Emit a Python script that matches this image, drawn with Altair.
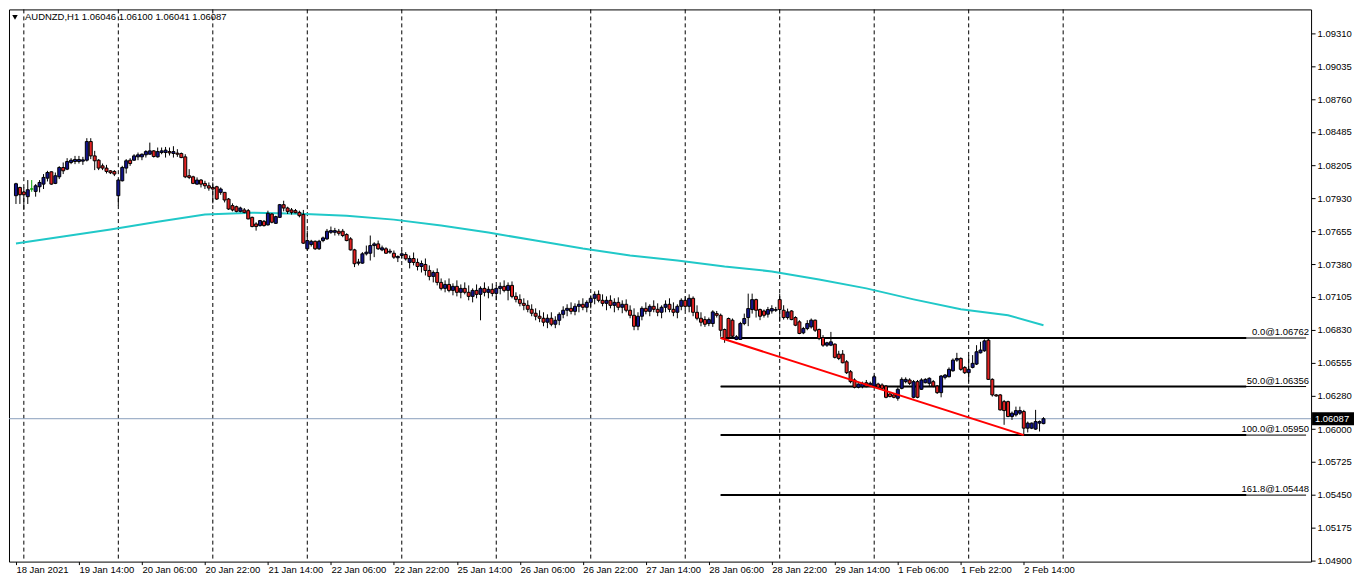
import altair as alt
import pandas as pd

# ---------------- data (AUDNZD H1) ----------------
open_ = [
 1.07952,1.08021,1.07983,1.07944,1.08008,1.07988,1.08027,1.08049,1.08099,1.08152,
 1.08055,1.08110,1.08188,1.08174,1.08230,1.08238,1.08238,1.08241,1.08249,1.08405,
 1.08285,1.08249,1.08202,1.08183,1.08160,1.08155,1.07952,1.08077,1.08183,1.08249,
 1.08249,1.08277,1.08277,1.08294,1.08299,1.08327,1.08277,1.08313,1.08313,1.08321,
 1.08305,1.08308,1.08305,1.08277,1.08119,1.08110,1.08049,1.08083,1.08055,1.08035,
 1.08021,1.08027,1.07980,1.07980,1.07924,1.07869,1.07860,1.07821,1.07833,1.07827,
 1.07771,1.07716,1.07702,1.07738,1.07708,1.07799,1.07721,1.07771,1.07877,1.07849,
 1.07833,1.07827,1.07813,1.07794,1.07508,1.07544,1.07571,1.07508,1.07577,1.07591,
 1.07646,1.07646,1.07655,1.07655,1.07627,1.07591,1.07499,1.07388,1.07388,1.07466,
 1.07471,1.07535,1.07549,1.07499,1.07508,1.07480,1.07471,1.07433,1.07452,1.07460,
 1.07394,1.07427,1.07394,1.07360,1.07377,1.07327,1.07277,1.07310,1.07227,1.07177,
 1.07210,1.07160,1.07194,1.07144,1.07177,1.07144,1.07110,1.07160,1.07127,1.07177,
 1.07144,1.07169,1.07135,1.07177,1.07194,1.07160,1.07202,1.07110,1.07085,1.07052,
 1.07035,1.07002,1.06969,1.06944,1.06927,1.06894,1.06927,1.06877,1.06910,1.06960,
 1.06994,1.07010,1.06985,1.07027,1.07044,1.07019,1.07060,1.07094,1.07127,1.07077,
 1.07052,1.07077,1.07035,1.07060,1.07019,1.07044,1.06994,1.06952,1.06860,1.06944,
 1.07010,1.06985,1.07027,1.07002,1.06977,1.07019,1.07044,1.07002,1.06977,1.07027,
 1.07077,1.07027,1.07094,1.06977,1.06927,1.06916,1.06883,1.06883,1.06966,1.06952,
 1.06833,1.06925,1.06911,1.06750,1.06750,1.06883,1.06933,1.07000,1.07083,1.07000,
 1.06988,1.06961,1.06988,1.06994,1.07083,1.06994,1.06933,1.06988,1.06933,1.06897,
 1.06805,1.06841,1.06855,1.06911,1.06833,1.06766,1.06702,1.06702,1.06711,1.06627,
 1.06627,1.06563,1.06480,1.06411,1.06350,1.06355,1.06388,1.06369,1.06360,1.06377,
 1.06369,1.06360,1.06294,1.06286,1.06258,1.06341,1.06397,1.06411,1.06266,1.06397,
 1.06333,1.06388,1.06383,1.06397,1.06360,1.06305,1.06433,1.06438,1.06488,1.06577,
 1.06591,1.06516,1.06472,1.06516,1.06544,1.06638,1.06655,1.06744,1.06416,1.06286,
 1.06286,1.06230,1.06230,1.06105,1.06119,1.06133,1.06147,1.06008,1.06008,1.06000,
 1.06050,1.06046]
high_ = [
 1.08060,1.08027,1.08021,1.08083,1.08083,1.08049,1.08083,1.08133,1.08160,1.08155,
 1.08146,1.08199,1.08230,1.08266,1.08266,1.08285,1.08285,1.08277,1.08433,1.08433,
 1.08327,1.08258,1.08221,1.08210,1.08166,1.08166,1.08091,1.08202,1.08258,1.08266,
 1.08299,1.08313,1.08305,1.08333,1.08396,1.08333,1.08355,1.08355,1.08360,1.08355,
 1.08366,1.08341,1.08313,1.08299,1.08174,1.08119,1.08105,1.08091,1.08077,1.08063,
 1.08063,1.08035,1.08021,1.07980,1.07933,1.07888,1.07869,1.07860,1.07849,1.07841,
 1.07777,1.07730,1.07749,1.07749,1.07827,1.07805,1.07785,1.07883,1.07910,1.07860,
 1.07849,1.07841,1.07827,1.07833,1.07660,1.07583,1.07577,1.07583,1.07610,1.07674,
 1.07694,1.07683,1.07674,1.07674,1.07638,1.07605,1.07508,1.07424,1.07480,1.07535,
 1.07619,1.07563,1.07577,1.07535,1.07521,1.07508,1.07494,1.07452,1.07494,1.07480,
 1.07452,1.07477,1.07427,1.07410,1.07427,1.07369,1.07327,1.07344,1.07260,1.07244,
 1.07260,1.07219,1.07244,1.07210,1.07227,1.07202,1.07177,1.07210,1.07194,1.07227,
 1.07194,1.07219,1.07202,1.07227,1.07244,1.07227,1.07235,1.07144,1.07127,1.07094,
 1.07077,1.07044,1.07010,1.06994,1.06977,1.06960,1.06977,1.06944,1.06977,1.07027,
 1.07044,1.07060,1.07052,1.07077,1.07094,1.07077,1.07119,1.07152,1.07160,1.07127,
 1.07110,1.07119,1.07094,1.07102,1.07077,1.07085,1.07035,1.07010,1.06977,1.07027,
 1.07060,1.07044,1.07077,1.07052,1.07035,1.07077,1.07094,1.07060,1.07044,1.07094,
 1.07110,1.07127,1.07110,1.07035,1.06977,1.06944,1.06933,1.06994,1.06988,1.06966,
 1.06841,1.06933,1.06925,1.06786,1.06897,1.06966,1.07133,1.07133,1.07091,1.07008,
 1.07000,1.07022,1.07036,1.07022,1.07133,1.07036,1.07008,1.06994,1.06944,1.06911,
 1.06855,1.06911,1.06925,1.06916,1.06841,1.06786,1.06730,1.06813,1.06716,1.06655,
 1.06661,1.06577,1.06494,1.06425,1.06383,1.06397,1.06411,1.06397,1.06452,1.06388,
 1.06383,1.06369,1.06305,1.06294,1.06350,1.06433,1.06433,1.06425,1.06411,1.06411,
 1.06425,1.06425,1.06433,1.06411,1.06369,1.06452,1.06461,1.06516,1.06591,1.06638,
 1.06600,1.06527,1.06619,1.06619,1.06702,1.06730,1.06750,1.06762,1.06425,1.06294,
 1.06294,1.06244,1.06238,1.06147,1.06188,1.06188,1.06161,1.06063,1.06055,1.06161,
 1.06072,1.06100]
low_ = [
 1.07883,1.07883,1.07833,1.07883,1.07985,1.07944,1.07980,1.08008,1.08071,1.08044,
 1.08049,1.08091,1.08133,1.08166,1.08216,1.08216,1.08221,1.08210,1.08238,1.08258,
 1.08166,1.08166,1.08166,1.08138,1.08133,1.08116,1.07869,1.08071,1.08138,1.08202,
 1.08244,1.08249,1.08249,1.08271,1.08299,1.08271,1.08271,1.08299,1.08271,1.08288,
 1.08271,1.08277,1.08266,1.08099,1.08091,1.08049,1.08044,1.08021,1.08008,1.07994,
 1.07888,1.07916,1.07960,1.07896,1.07833,1.07821,1.07813,1.07813,1.07805,1.07755,
 1.07688,1.07660,1.07694,1.07694,1.07702,1.07721,1.07716,1.07766,1.07821,1.07799,
 1.07794,1.07805,1.07771,1.07549,1.07494,1.07527,1.07499,1.07499,1.07563,1.07583,
 1.07633,1.07619,1.07619,1.07605,1.07571,1.07494,1.07355,1.07369,1.07383,1.07452,
 1.07410,1.07438,1.07499,1.07488,1.07466,1.07466,1.07424,1.07397,1.07424,1.07410,
 1.07344,1.07369,1.07327,1.07310,1.07285,1.07244,1.07227,1.07202,1.07160,1.07144,
 1.07144,1.07119,1.07110,1.07094,1.07127,1.07077,1.07060,1.07094,1.06910,1.07110,
 1.07094,1.07110,1.07077,1.07127,1.07144,1.07077,1.07094,1.07060,1.07027,1.06994,
 1.06977,1.06944,1.06910,1.06894,1.06860,1.06844,1.06860,1.06844,1.06869,1.06927,
 1.06944,1.06960,1.06952,1.06977,1.06994,1.06977,1.07010,1.07044,1.07060,1.07027,
 1.06994,1.07010,1.06977,1.06994,1.06969,1.06977,1.06927,1.06827,1.06827,1.06910,
 1.06960,1.06944,1.06977,1.06944,1.06927,1.06977,1.06977,1.06944,1.06927,1.06994,
 1.06994,1.06977,1.06944,1.06910,1.06860,1.06855,1.06861,1.06855,1.06933,1.06772,
 1.06722,1.06750,1.06758,1.06744,1.06750,1.06869,1.06861,1.06966,1.06933,1.06911,
 1.06933,1.06933,1.06966,1.06980,1.06897,1.06916,1.06916,1.06911,1.06861,1.06794,
 1.06794,1.06827,1.06841,1.06813,1.06744,1.06688,1.06688,1.06694,1.06591,1.06577,
 1.06550,1.06461,1.06383,1.06341,1.06341,1.06341,1.06350,1.06355,1.06355,1.06341,
 1.06333,1.06258,1.06266,1.06258,1.06238,1.06333,1.06383,1.06369,1.06258,1.06258,
 1.06327,1.06383,1.06355,1.06350,1.06294,1.06266,1.06416,1.06433,1.06480,1.06563,
 1.06488,1.06461,1.06397,1.06508,1.06536,1.06633,1.06647,1.06411,1.06272,1.06272,
 1.06155,1.06036,1.06100,1.06077,1.06105,1.06119,1.05950,1.05972,1.06000,1.05994,
 1.05980,1.06041]
close_ = [
 1.08052,1.07960,1.07960,1.08002,1.08008,1.08035,1.08063,1.08105,1.08146,1.08049,
 1.08119,1.08188,1.08160,1.08238,1.08249,1.08255,1.08255,1.08252,1.08405,1.08285,
 1.08244,1.08183,1.08183,1.08155,1.08144,1.08133,1.08083,1.08188,1.08244,1.08221,
 1.08285,1.08294,1.08299,1.08321,1.08327,1.08280,1.08321,1.08327,1.08333,1.08310,
 1.08321,1.08299,1.08271,1.08110,1.08105,1.08055,1.08083,1.08049,1.08035,1.08016,
 1.08008,1.07924,1.08008,1.07916,1.07841,1.07833,1.07821,1.07849,1.07813,1.07758,
 1.07694,1.07694,1.07744,1.07702,1.07805,1.07730,1.07777,1.07877,1.07849,1.07821,
 1.07813,1.07810,1.07785,1.07555,1.07577,1.07571,1.07508,1.07571,1.07599,1.07655,
 1.07660,1.07660,1.07638,1.07619,1.07577,1.07499,1.07383,1.07397,1.07466,1.07480,
 1.07535,1.07549,1.07508,1.07516,1.07471,1.07488,1.07438,1.07444,1.07466,1.07424,
 1.07427,1.07394,1.07360,1.07385,1.07327,1.07277,1.07310,1.07227,1.07177,1.07210,
 1.07160,1.07194,1.07144,1.07177,1.07144,1.07110,1.07160,1.07127,1.07177,1.07144,
 1.07169,1.07135,1.07177,1.07194,1.07160,1.07202,1.07110,1.07085,1.07052,1.07035,
 1.07002,1.06969,1.06944,1.06927,1.06894,1.06927,1.06877,1.06910,1.06960,1.06994,
 1.07010,1.06985,1.07027,1.07044,1.07019,1.07060,1.07094,1.07127,1.07077,1.07052,
 1.07077,1.07035,1.07060,1.07019,1.07044,1.06994,1.06952,1.06860,1.06944,1.07010,
 1.06985,1.07027,1.07002,1.06977,1.07019,1.07044,1.07002,1.06977,1.07027,1.07077,
 1.07027,1.07094,1.06977,1.06927,1.06894,1.06877,1.06916,1.06980,1.06952,1.06827,
 1.06758,1.06766,1.06777,1.06772,1.06883,1.06925,1.07008,1.07083,1.06994,1.06944,
 1.06952,1.07000,1.07008,1.07000,1.07000,1.06933,1.06980,1.06916,1.06869,1.06800,
 1.06841,1.06883,1.06911,1.06827,1.06758,1.06702,1.06722,1.06730,1.06600,1.06591,
 1.06555,1.06472,1.06397,1.06350,1.06377,1.06383,1.06355,1.06383,1.06438,1.06350,
 1.06341,1.06266,1.06272,1.06266,1.06333,1.06416,1.06416,1.06383,1.06397,1.06266,
 1.06411,1.06416,1.06425,1.06360,1.06305,1.06444,1.06452,1.06500,1.06577,1.06591,
 1.06500,1.06472,1.06500,1.06550,1.06647,1.06661,1.06738,1.06416,1.06286,1.06277,
 1.06161,1.06155,1.06105,1.06133,1.06155,1.06155,1.06008,1.06050,1.06050,1.06063,
 1.06063,1.06087]

# moving average (cyan), read at every 12th bar
ma_idx = [0, 12, 24, 36, 48, 60, 72, 84, 96, 108, 120, 132, 144, 156, 168,
          180, 192, 204, 216, 228, 240, 252, 261]
ma_val = [1.07552, 1.07610, 1.07669, 1.07735, 1.07794, 1.07810, 1.07802, 1.07785,
          1.07752, 1.07702, 1.07644, 1.07577, 1.07510, 1.07452, 1.07410, 1.07360,
          1.07319, 1.07252, 1.07177, 1.07085, 1.07002, 1.06952, 1.06869]

# time axis labels (every 16 bars) and dashed grid (every 24 bars)
x_label_idx = [0, 16, 32, 48, 64, 80, 96, 112, 128, 144, 160, 176, 192, 208, 224, 240, 256]
x_labels = ["18 Jan 2021", "19 Jan 14:00", "20 Jan 06:00", "20 Jan 22:00", "21 Jan 14:00",
            "22 Jan 06:00", "22 Jan 22:00", "25 Jan 14:00", "26 Jan 06:00", "26 Jan 22:00",
            "27 Jan 14:00", "28 Jan 06:00", "28 Jan 22:00", "29 Jan 14:00", "1 Feb 06:00",
            "1 Feb 22:00", "2 Feb 14:00"]
grid_idx = [2, 26, 50, 74, 98, 122, 146, 170, 194, 218, 242, 266]

y_ticks = [1.04900, 1.05175, 1.05450, 1.05725, 1.06000, 1.06280, 1.06555, 1.06830,
           1.07105, 1.07380, 1.07655, 1.07930, 1.08205, 1.08485, 1.08760, 1.09035, 1.09310]

# Fibonacci object
fib_levels = [1.06762, 1.06356, 1.05950, 1.05448]
fib_labels = ["0.0@1.06762", "50.0@1.06356", "100.0@1.05950", "161.8@1.05448"]
fib_from = 179
fib_to = 312.5

# red trend line (bar index, price)
trend_idx = [179, 256]
trend_val = [1.06762, 1.05950]

last_price = 1.06087
title_text = "AUDNZD,H1  1.06046 1.06100 1.06041 1.06087"

# ---------------- chart ----------------
W, H = 1304, 553
X_DOM = [-0.5, 327.7]
Y_DOM = [1.04892, 1.09510]
FONT = "Liberation Sans"
FS = 9.5

xsc = alt.Scale(domain=X_DOM, nice=False, zero=False)
ysc = alt.Scale(domain=Y_DOM, nice=False, zero=False)

label_expr = "[" + ",".join("'" + s + "'" for s in x_labels) + "][round(datum.value / 16)]"

XAX = alt.Axis(
    values=x_label_idx, labelExpr=label_expr, orient="bottom", grid=False,
    domain=False, ticks=True, tickSize=3, tickColor="black", labelAlign="left",
    labelBaseline="top", labelPadding=0, labelFont=FONT, labelFontSize=FS,
    labelColor="black", labelOverlap=False, labelFlush=False, title=None)
YAX = alt.Axis(
    orient="right", values=y_ticks, format=".5f", grid=False, domain=False,
    tickSize=4, tickColor="black", labelPadding=2, labelFont=FONT,
    labelFontSize=FS, labelColor="black", labelOverlap=False, labelFlush=False,
    title=None)


def X(field):
    return alt.X(field, scale=xsc, axis=XAX)


def Y(field):
    return alt.Y(field, scale=ysc, axis=YAX)


n = len(close_)
df = pd.DataFrame({"i": list(range(n)), "o": open_, "h": high_, "l": low_, "c": close_})
df["top"] = df[["o", "c"]].max(axis=1)
df["bot"] = df[["o", "c"]].min(axis=1)
df["kind"] = ["up" if c > o else ("down" if c < o else "doji") for o, c in zip(open_, close_)]
kinds = ["up", "down", "doji"]

grid = alt.Chart(pd.DataFrame({"i": grid_idx})).mark_rule(
    color="black", strokeWidth=1, strokeDash=[4, 3]
).encode(x=X("i:Q"))

price_line = alt.Chart(pd.DataFrame({"p": [last_price]})).mark_rule(
    color="#8aa0bc", strokeWidth=1
).encode(y=Y("p:Q"))

fib_df = pd.DataFrame({"lvl": fib_levels, "lab": fib_labels,
                       "a": [fib_from] * 4, "b": [fib_to] * 4, "e": [X_DOM[1]] * 4})
fib_thin = alt.Chart(fib_df).mark_rule(color="black", strokeWidth=1).encode(
    x=X("a:Q"), x2="e:Q", y=Y("lvl:Q"))
fib_thick = alt.Chart(fib_df).mark_rule(color="black", strokeWidth=2).encode(
    x=X("a:Q"), x2="b:Q", y=Y("lvl:Q"))
fib_text = alt.Chart(fib_df).mark_text(
    align="right", baseline="bottom", dy=-1, font=FONT, fontSize=FS, color="black"
).encode(x=alt.value(W - 2), y=Y("lvl:Q"), text="lab:N")

ma = alt.Chart(pd.DataFrame({"i": ma_idx, "v": ma_val})).mark_line(
    color="#20c8c8", strokeWidth=2
).encode(x=X("i:Q"), y=Y("v:Q"))

wicks = alt.Chart(df).mark_rule(strokeWidth=1).encode(
    x=X("i:Q"), y=Y("l:Q"), y2="h:Q",
    color=alt.Color("kind:N", scale=alt.Scale(domain=kinds, range=["black", "black", "#00a000"]),
                    legend=None),
)

bodies = alt.Chart(df).mark_bar(size=3, strokeWidth=1, opacity=1).encode(
    x=X("i:Q"), y=Y("bot:Q"), y2="top:Q",
    fill=alt.Fill("kind:N", scale=alt.Scale(domain=kinds, range=["#12148c", "#e32222", "#00a000"]),
                  legend=None),
    stroke=alt.Stroke("kind:N", scale=alt.Scale(domain=kinds, range=["black", "black", "#00a000"]),
                      legend=None),
)

trend = alt.Chart(pd.DataFrame({"a": [trend_idx[0]], "b": [trend_idx[1]],
                                "p": [trend_val[0]], "q": [trend_val[1]]})).mark_rule(
    color="#ff0000", strokeWidth=2
).encode(x=X("a:Q"), x2="b:Q", y=Y("p:Q"), y2="q:Q")

title = alt.Chart(pd.DataFrame({"t": [title_text]})).mark_text(
    align="left", baseline="middle", font=FONT, fontSize=FS, color="black"
).encode(x=alt.value(16), y=alt.value(8), text="t:N")

tri = alt.Chart(pd.DataFrame({"t": [1]})).mark_point(
    shape="triangle-down", filled=True, color="black", size=30, opacity=1
).encode(x=alt.value(6), y=alt.value(8))

tag_box = alt.Chart(pd.DataFrame({"p": [last_price]})).mark_point(
    shape="M-1,-0.31L1,-0.31L1,0.31L-1,0.31Z", size=42 * 42, filled=True,
    color="black", opacity=1
).encode(x=alt.value(W + 22), y=Y("p:Q"))
tag_text = alt.Chart(pd.DataFrame({"p": [last_price], "t": ["1.06087"]})).mark_text(
    align="center", baseline="middle", font=FONT, fontSize=FS, color="white"
).encode(x=alt.value(W + 21), y=Y("p:Q"), text="t:N")

chart = alt.layer(
    grid, price_line, fib_thin, fib_thick, ma, wicks, bodies, trend, fib_text,
    title, tri, tag_box, tag_text
).properties(
    width=W, height=H, padding=0, background="white"
).configure_view(
    stroke="black", strokeWidth=1
)

chart.save("out.html", embed_options={"renderer": "svg", "actions": False})
